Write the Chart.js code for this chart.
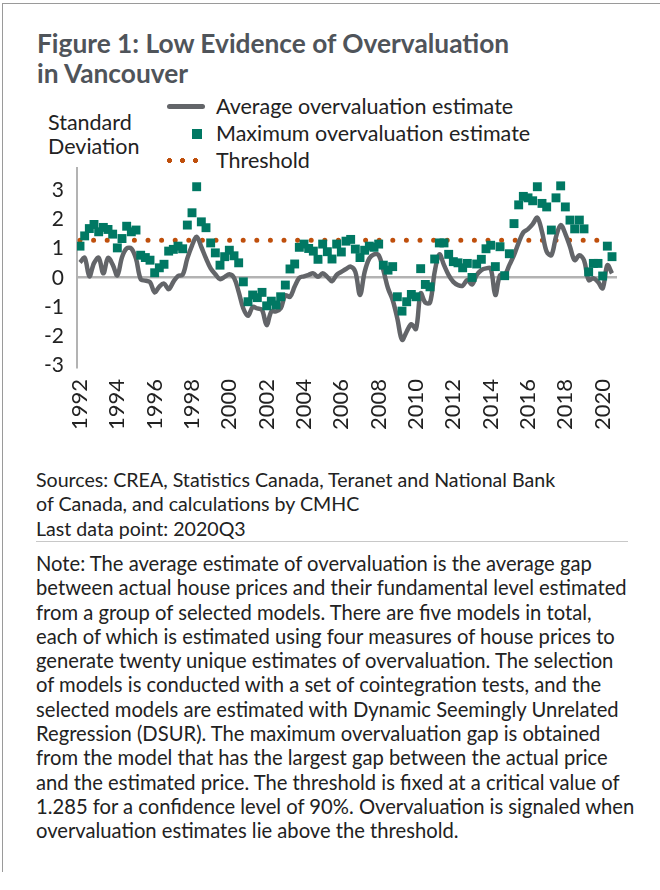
<!DOCTYPE html>
<html>
<head>
<meta charset="utf-8">
<script src="https://cdn.jsdelivr.net/npm/chart.js@4.4.1/dist/chart.umd.min.js"></script>
<style>
  html, body { margin: 0; padding: 0; background: #fff; }
  body { width: 660px; height: 890px; position: relative; overflow: hidden; font-family: Lato, "Open Sans", sans-serif; color: #222; }
  .frame { position: absolute; left: 2px; top: 3px; width: 670px; height: 868px; border-top: 1.5px solid #9a9a9a; border-left: 1.5px solid #9a9a9a; }
  .title { position: absolute; left: 37px; top: 28px; font-size: 26.3px; font-weight: bold; line-height: 30px; color: #4f545a; white-space: nowrap; }
  .ylabel { position: absolute; left: 48px; top: 110px; font-size: 21.5px; line-height: 24px; white-space: nowrap; }
  .legend { position: absolute; left: 167px; top: 93px; font-size: 21.5px; white-space: nowrap; }
  .legend .row { position: relative; height: 27px; line-height: 27px; padding-left: 49px; }
  .legend .sw { position: absolute; }
  .sw.line { left: 0; top: 11px; width: 38px; height: 5px; border-radius: 3px; background: #636569; }
  .sw.rect { left: 25px; top: 9px; width: 10px; height: 10px; background: #007863; }
  .sw.dots { left: -4.5px; top: 11px; width: 39px; height: 5px;
    background: radial-gradient(circle, #bf4f0c 2.3px, transparent 2.6px) 0 0 / 13px 5px repeat-x; }
  #chartBox { position: absolute; left: 0; top: 160px; width: 660px; height: 290px; }
  .text { position: absolute; left: 36px; font-size: 19.6px; line-height: 24.4px; white-space: pre; color: #222; }
  .note { font-size: 20.2px; line-height: 24.3px; }
  .sep { position: absolute; left: 36px; top: 541px; width: 592px; height: 1px; background: #c8c8c8; }
</style>
</head>
<body>
<div class="frame"></div>
<div class="title">Figure 1: Low Evidence of Overvaluation<br>in Vancouver</div>
<div class="ylabel">Standard<br>Deviation</div>
<div class="legend">
  <div class="row"><span class="sw line"></span>Average overvaluation estimate</div>
  <div class="row"><span class="sw rect"></span>Maximum overvaluation estimate</div>
  <div class="row"><span class="sw dots"></span>Threshold</div>
</div>
<div id="chartBox"><canvas id="chart"></canvas></div>
<div class="text" style="top:468px">Sources: CREA, Statistics Canada, Teranet and National Bank
of Canada, and calculations by CMHC
Last data point: 2020Q3</div>
<div class="sep"></div>
<div class="text note" style="top:551px">Note: The average estimate of overvaluation is the average gap
between actual house prices and their fundamental level estimated
from a group of selected models. There are five models in total,
each of which is estimated using four measures of house prices to
generate twenty unique estimates of overvaluation. The selection
of models is conducted with a set of cointegration tests, and the
selected models are estimated with Dynamic Seemingly Unrelated
Regression (DSUR). The maximum overvaluation gap is obtained
from the model that has the largest gap between the actual price
and the estimated price. The threshold is fixed at a critical value of
1.285 for a confidence level of 90%. Overvaluation is signaled when
overvaluation estimates lie above the threshold.</div>

<script>
// quarters 1992Q1 .. 2020Q3
const firstYear = 1992;
const quarterCount = 115;
const quarters = [];
for (let i = 0; i < quarterCount; i++) {
    quarters.push((firstYear + Math.floor(i / 4)) + 'Q' + (i % 4 + 1));
}

const xTickLabels = ['1992', '1994', '1996', '1998', '2000', '2002', '2004', '2006',
    '2008', '2010', '2012', '2014', '2016', '2018', '2020'];
const yTicks = [-3, -2, -1, 0, 1, 2, 3];

const averageEstimate = [
    0.52, 0.68, 0.05, 0.50, 0.68, 0.15, 0.68, 0.45, 0.08, 0.70,
    1.00, 1.00, 0.65, -0.05, -0.10, -0.15, -0.50, -0.30, -0.20, -0.39,
    -0.14, 0.06, 0.10, 0.66, 1.10, 1.40, 1.05, 0.66, 0.32, 0.12,
    -0.05, 0.03, 0.12, 0.00, -0.48, -1.05, -1.30, -1.00, -1.05, -1.10,
    -1.62, -1.15, -1.15, -1.05, -0.60, -0.65, -0.30, 0.00, 0.05, 0.10,
    0.15, 0.03, 0.15, 0.03, -0.12, 0.10, 0.20, 0.30, 0.38, 0.20,
    -0.59, 0.20, 0.66, 0.80, 0.77, 0.26, -0.36, -0.76, -1.39, -2.12,
    -1.84, -1.59, -1.75, -0.53, -0.85, -0.85, 0.20, 0.80, 0.43, 0.09,
    -0.14, -0.25, -0.27, -0.08, -0.23, 0.09, 0.26, 0.32, 0.32, -0.59,
    0.09, 0.09, 0.43, 0.77, 1.20, 1.55, 1.66, 1.83, 2.05, 1.57,
    0.89, 0.77, 1.40, 1.80, 1.50, 1.06, 0.60, 0.77, 0.60, -0.08,
    -0.02, -0.14, -0.36, 0.43, 0.15
];

const maximumEstimate = [
    1.08, 1.43, 1.68, 1.82, 1.57, 1.72, 1.65, 1.49, 1.02, 1.34,
    1.76, 1.57, 1.63, 0.77, 0.69, 0.60, 0.17, 0.34, 0.46, 0.91,
    0.97, 1.08, 0.99, 1.80, 2.22, 3.11, 1.91, 1.71, 1.19, 0.85,
    0.43, 0.72, 0.94, 0.75, 0.51, -0.14, -0.82, -0.59, -0.68, -0.50,
    -0.96, -0.80, -0.93, -0.65, -0.25, 0.30, 0.47, 1.04, 1.15, 1.00,
    0.91, 0.63, 1.15, 0.89, 0.64, 1.15, 0.88, 1.25, 1.31, 0.98,
    0.69, 0.94, 1.08, 1.04, 1.15, 0.43, 0.26, 0.38, -0.65, -1.14,
    -0.82, -0.57, -0.65, 0.31, -0.23, -0.31, 0.64, 1.19, 1.19, 0.80,
    0.55, 0.51, 0.34, 0.49, 0.01, 0.47, 0.63, 0.99, 1.11, 0.38,
    1.06, 0.07, 0.82, 1.85, 2.49, 2.78, 2.73, 2.63, 3.11, 2.54,
    2.42, 1.63, 2.73, 3.14, 2.42, 1.97, 1.67, 1.97, 1.67, 0.20,
    0.49, 0.49, 0.06, 1.08, 0.72
];

const thresholdValue = 1.285;
const thresholdRange = ['1992Q1', '2019Q4'];

document.addEventListener('DOMContentLoaded', function() {
    initializeChart();
});

function toPoints(values) {
    return values.map((v, i) => ({ x: i, y: v }));
}

function initializeChart() {
    const ctx = document.getElementById('chart');
    const tickIndex = xTickLabels.map(y => quarters.indexOf(y + 'Q1'));
    const thresholdData = thresholdRange.map(q => ({ x: quarters.indexOf(q), y: thresholdValue }));

    new Chart(ctx, {
        type: 'line',
        data: {
            datasets: [
                {
                    label: 'Maximum overvaluation estimate',
                    data: toPoints(maximumEstimate),
                    showLine: false,
                    pointStyle: 'rect',
                    pointRadius: 6.3,
                    pointBorderWidth: 0,
                    pointBackgroundColor: '#007863',
                    order: 0
                },
                {
                    label: 'Average overvaluation estimate',
                    data: toPoints(averageEstimate),
                    borderColor: '#636569',
                    borderWidth: 4.5,
                    borderJoinStyle: 'round',
                    pointRadius: 0,
                    tension: 0.35,
                    order: 1
                },
                {
                    label: 'Threshold',
                    data: thresholdData,
                    borderColor: '#bf4f0c',
                    borderWidth: 5,
                    borderDash: [0, 13.6],
                    borderCapStyle: 'round',
                    pointRadius: 0,
                    order: 2
                }
            ]
        },
        options: {
            responsive: true,
            maintainAspectRatio: false,
            animation: false,
            devicePixelRatio: 1,
            layout: { padding: { left: 0, right: 43, top: 8, bottom: 0 } },
            plugins: {
                legend: { display: false },
                tooltip: { enabled: false }
            },
            scales: {
                x: {
                    type: 'linear',
                    min: -0.643,
                    max: 115.07,
                    afterFit: function(scale) {
                        scale.height = 83;
                        scale.paddingLeft = 0;
                        scale.paddingRight = 0;
                    },
                    afterBuildTicks: function(scale) {
                        scale.ticks = tickIndex.map(v => ({ value: v }));
                    },
                    grid: { display: false, drawTicks: false },
                    border: { display: false },
                    ticks: {
                        autoSkip: false,
                        maxRotation: 90,
                        minRotation: 90,
                        padding: 12,
                        color: '#222',
                        font: { family: 'Lato', size: 22 },
                        callback: function(value) {
                            const k = tickIndex.indexOf(value);
                            return k >= 0 ? xTickLabels[k] : '';
                        }
                    }
                },
                y: {
                    min: -3.05,
                    max: 3.75,
                    afterFit: function(scale) {
                        scale.width = 77;
                        scale.paddingTop = 0;
                        scale.paddingBottom = 0;
                    },
                    afterBuildTicks: function(scale) {
                        scale.ticks = yTicks.map(v => ({ value: v }));
                    },
                    grid: {
                        drawTicks: false,
                        lineWidth: 2.5,
                        color: function(c) {
                            return c.tick && c.tick.value === 0 ? '#b3b3b3' : 'rgba(0,0,0,0)';
                        }
                    },
                    border: { color: '#b3b3b3', width: 2 },
                    ticks: {
                        padding: 13,
                        color: '#222',
                        font: { family: 'Lato', size: 21 }
                    }
                }
            }
        }
    });
}
</script>
</body>
</html>
